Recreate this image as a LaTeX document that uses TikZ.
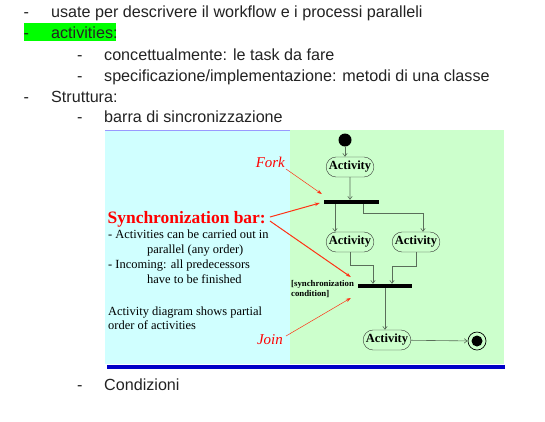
\documentclass[tikz,border=0pt]{standalone}
\usepackage{fontspec}
\setmainfont{Liberation Serif}
\newfontfamily\notesfont{Liberation Sans}
\usetikzlibrary{positioning, calc, arrows.meta, shapes.misc}
\definecolor{cyanbg}{RGB}{208,255,255}
\definecolor{greenbg}{RGB}{204,255,204}
\definecolor{flowgray}{RGB}{90,110,90}
\definecolor{ptrred}{RGB}{255,50,20}
\definecolor{barblue}{RGB}{0,0,200}
\definecolor{hlgreen}{RGB}{0,255,0}
\definecolor{notegray}{RGB}{34,34,34}

\begin{document}
\begin{tikzpicture}[x=1bp, y=-1bp,
  note/.style={anchor=base west, inner sep=0, text=notegray, font=\notesfont\fontsize{16.2}{19}\selectfont},
  body/.style={anchor=base west, inner sep=0, font=\fontsize{12.5}{15}\selectfont},
  act/.style={draw=black!80, rounded rectangle, minimum width=47bp, minimum height=20bp, inner xsep=1bp, inner ysep=1bp, font=\bfseries\fontsize{12.5}{13}\selectfont},
  syncbar/.style={fill=black, minimum height=4bp, inner sep=0},
  flow/.style={draw=flowgray, line width=0.6bp, -{Straight Barb[length=3bp,width=4.5bp]}},
  ptr/.style={draw=ptrred, line width=0.5bp, -{Stealth[length=5bp,width=3.5bp]}},
  redlab/.style={inner sep=0, text=red, font=\itshape\fontsize{15}{18}\selectfont}]

\useasboundingbox (0,0) rectangle (545,421);

% notes above the slide
\fill[hlgreen] (23.5,22.5) rectangle (116,41);

\node[note] (d1) at (23.5,17) {-};
\node[note] (t1) at (51,17) {usate per descrivere il workflow e i processi paralleli};
\node[note] (d2) at (23.5,38.5) {-};
\node[note] (t2) at (51,38.5) {activities:};
\node[note] (d3) at (77,60) {-};
\node[note] (t3) at (104,60) {concettualmente: le task da fare};
\node[note] (d4) at (77,81) {-};
\node[note] (t4) at (104,81) {specificazione/implementazione: metodi di una classe};
\node[note] (d5) at (23.5,102.3) {-};
\node[note] (t5) at (51,102.3) {Struttura:};
\node[note] (d6) at (77,122.7) {-};
\node[note] (t6) at (104,122.7) {barra di sincronizzazione};
\node[note] (d7) at (77,390) {-};
\node[note] (t7) at (104,390) {Condizioni};

% slide
\fill[cyanbg] (105,130) rectangle (290,364);
\fill[greenbg] (290,130) rectangle (504,364);
\draw[blue!40, line width=0.8bp] (105,130.4) -- (290,130.4);
\fill[barblue] (107,364.5) rectangle (505,369);

\node[body, text=red, font=\bfseries\fontsize{17.5}{20}\selectfont] (synclab) at (107.5,223) {Synchronization bar:};
\node[body] (b1) at (108,238) {- Activities can be carried out in};
\node[body] (b2) at (147,253) {parallel (any order)};
\node[body] (b3) at (108,268.5) {- Incoming: all predecessors};
\node[body] (b4) at (147,283) {have to be finished};
\node[body] (b5) at (108,315) {Activity diagram shows partial};
\node[body] (b6) at (108,329.5) {order of activities};

\node[body, font=\bfseries\fontsize{8.8}{10}\selectfont] (cond1) at (291,286) {[synchronization};
\node[body, font=\bfseries\fontsize{8.8}{10}\selectfont] (cond2) at (291,296.5) {condition]};

\node[redlab, anchor=base east] (forklab) at (285,167) {Fork};
\node[redlab, anchor=base east] (joinlab) at (283,344) {Join};

% activity diagram
\node[circle, fill=black, minimum size=13bp, inner sep=0] (start) at (345,140) {};
\node[act] (a1) at (350,167) {Activity};
\node[syncbar, minimum width=55bp] (fork) at (351.5,202) {};
\node[act] (a2) at (350,242) {Activity};
\node[act] (a3) at (416,242) {Activity};
\node[syncbar, minimum width=54bp] (join) at (385,286) {};
\node[act] (a4) at (387,340) {Activity};
\node[circle, draw=black, line width=0.7bp, minimum size=18bp, inner sep=0] (stop) at (477,341) {};
\node[circle, fill=black, minimum size=11bp, inner sep=0] (stopdot) at (stop) {};

\coordinate (a2in) at ($(a2.north)+(-15,0)$);
\coordinate (a3in) at ($(a3.north)+(7,0)$);

\draw[flow] (start) -- (start |- a1.north);
\draw[flow] (a1) -- (a1 |- fork.north);
\draw[flow] (fork.south -| a2in) -- (a2in);
\draw[flow] ([xshift=11.5bp]fork.south) -- ++(0,9) -| (a3in);
\draw[flow] (a2.south) -- ++(0,13) -| ([xshift=-12bp]join.north);
\draw[flow] (a3.south) -- ++(0,14) -| ([xshift=7bp]join.north);
\draw[flow] (join) -- (join |- a4.north);
\draw[flow] (a4) -- (stop);

% red pointers
\draw[ptr] ([shift={(1,2)}]forklab.base east) -- ([shift={(-2,-8)}]fork.west);
\draw[ptr, line width=1bp] ([shift={(4,-6)}]synclab.base east) -- ([shift={(-4,1)}]fork.west);
\draw[ptr, line width=1bp] ([shift={(4,-2)}]synclab.base east) -- ([shift={(-7,-9)}]join.west);
\draw[ptr] ([shift={(3,-8)}]joinlab.base east) -- ([shift={(-7,12)}]join.west);

\end{tikzpicture}
\end{document}
